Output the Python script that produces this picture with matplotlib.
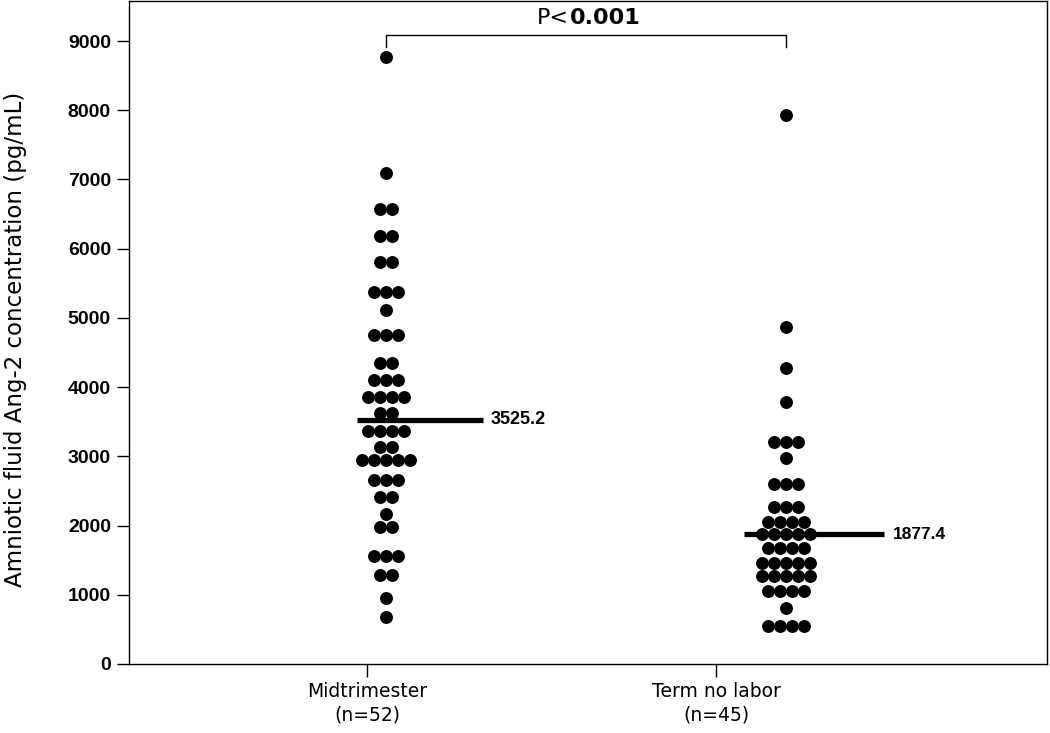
import matplotlib
matplotlib.use("Agg")
import matplotlib.pyplot as plt
import numpy as np

plt.rcParams['font.family'] = ['Liberation Sans', 'DejaVu Sans']

# Data: rows of the dot plot (value, number of dots at that value)
mid_values = [8770, 7096, 6577, 6188, 5813, 5380, 5120, 4760, 4342, 4096, 3851,
              3620, 3361, 3130, 2942, 2654, 2409, 2164, 1976, 1558, 1284, 952, 678]
mid_counts = [1, 1, 2, 2, 2, 3, 1, 3, 2, 3, 4, 2, 4, 2, 5, 3, 2, 1, 2, 3, 2, 1, 1]

term_values = [7933, 4875, 4270, 3779, 3202, 2971, 2596, 2265, 2048, 1875,
               1673, 1457, 1269, 1053, 808, 548]
term_counts = [1, 1, 1, 1, 3, 1, 3, 3, 4, 5, 4, 5, 5, 4, 1, 4]

medians = [3525.2, 1877.4]
categories = ["Midtrimester\n(n=52)", "Term no labor\n(n=45)"]
yticks = [0, 1000, 2000, 3000, 4000, 5000, 6000, 7000, 8000, 9000]
p_prefix = "P<"
p_value = "0.001"

fig = plt.figure(figsize=(10.5, 7.33), dpi=100)
ax = fig.add_axes([129/1050, (733-664)/733, (1047-129)/1050, 663/733])

spacing = 0.03  # horizontal spacing between dots in a row (data units)
for xc, vals, cnts in [(1, mid_values, mid_counts), (2, term_values, term_counts)]:
    xs, ys = [], []
    for v, n in zip(vals, cnts):
        for i in range(n):
            xs.append(xc + (i - (n - 1) / 2) * spacing)
            ys.append(v)
    ax.plot(xs, ys, 'o', color='black', markersize=9.3, markeredgewidth=0)

# median lines
ax.hlines(medians[0], 1 - 0.0725, 1 + 0.2425, color='black', linewidth=3.8)
ax.hlines(medians[1], 2 - 0.105, 2 + 0.245, color='black', linewidth=3.8)
ax.text(1 + 0.2625, medians[0], f"{medians[0]:.1f}", fontsize=13, fontweight='bold',
        va='center', ha='left')
ax.text(2 + 0.2675, medians[1], f"{medians[1]:.1f}", fontsize=12.5, fontweight='bold',
        va='center', ha='left')

# significance bracket
ax.plot([1, 1, 2, 2], [8914, 9087, 9087, 8914], color='black', linewidth=1)
ax.text(1.4575, 9333, p_prefix, ha='right', va='center', fontsize=16,
        family=['DejaVu Sans'])
ax.text(1.4595, 9333, p_value, ha='left', va='center', fontsize=16,
        family=['DejaVu Sans'], fontweight='semibold')

ax.set_xlim(0.3575, 2.6525)
ax.set_ylim(0, 9578)
ax.set_xticks([0.9525, 1.825])
ax.set_xticklabels(categories, fontsize=13.5, family=['DejaVu Sans'], linespacing=1.3)
ax.set_yticks(yticks)
ax.set_yticklabels([str(t) for t in yticks], fontsize=14, fontweight='bold')
ax.tick_params(axis='both', direction='out', length=9, width=1, color='black')
ax.tick_params(axis='x', pad=4)
ax.tick_params(axis='y', pad=4)
ax.set_ylabel("Amniotic fluid Ang-2 concentration (pg/mL)", fontsize=16.5,
              family=['DejaVu Sans'])
ax.yaxis.set_label_coords(-0.111, 0.489)
for s in ax.spines.values():
    s.set_linewidth(1)

fig.savefig("out.png", dpi=100)
